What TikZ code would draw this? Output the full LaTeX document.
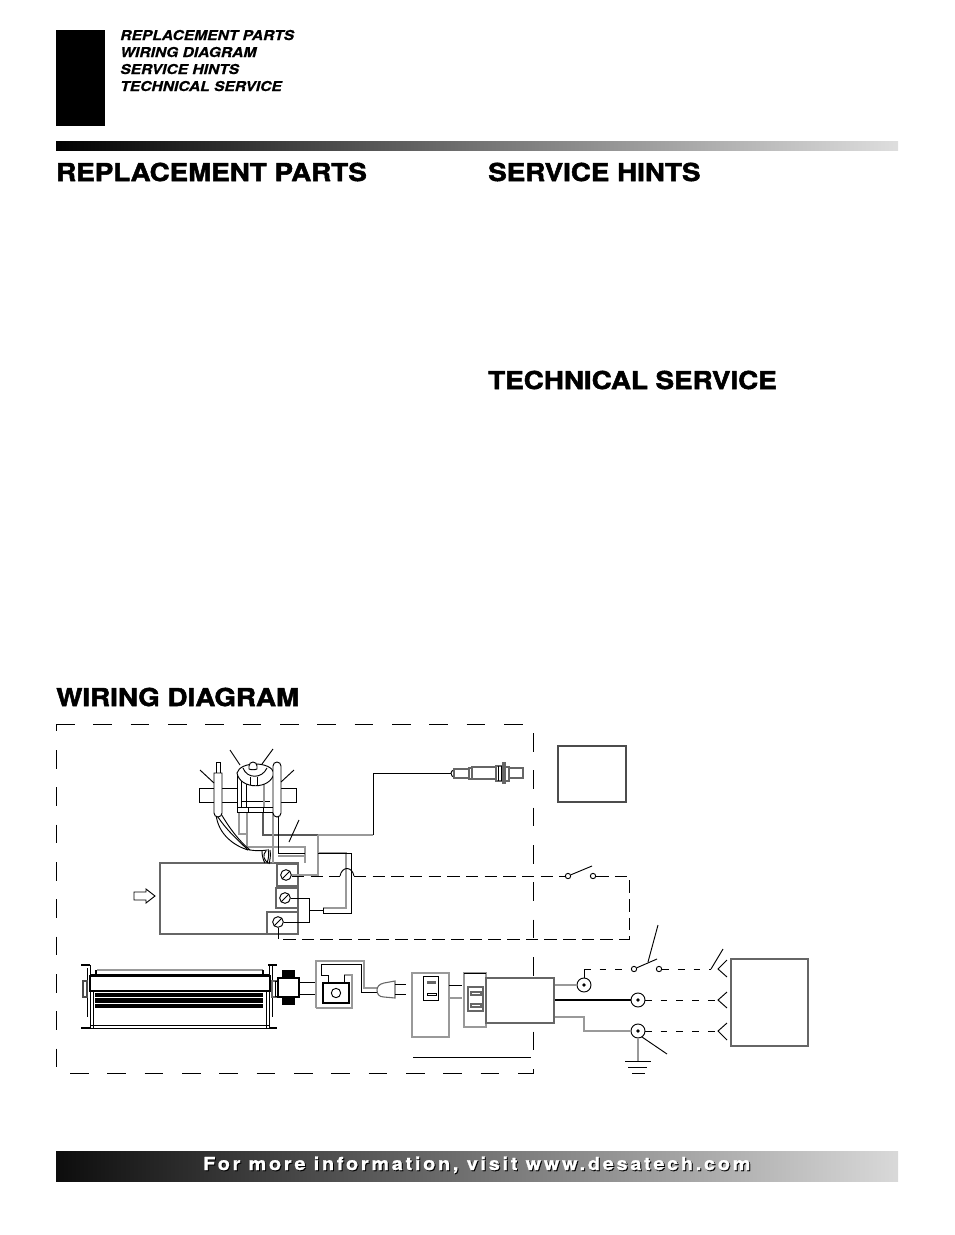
\documentclass[tikz,border=0pt]{standalone}
\usepackage{fontspec}
\usepackage{tikz}
\newfontfamily\headfont[FakeStretch=1.125,FakeBold=2]{TeX Gyre Heros}
\newfontfamily\tocfont[FakeStretch=1.145,FakeBold=0.5]{TeX Gyre Heros}
\newfontfamily\barfont[LetterSpace=15.4,FakeStretch=1.1,FakeBold=1.3]{TeX Gyre Heros}
\definecolor{wiregray}{gray}{0.6}
\definecolor{edgegray}{gray}{0.4}
\tikzset{
  parthead/.style={anchor=base west,inner sep=0pt,font=\headfont\bfseries\fontsize{18.5}{22}\selectfont},
  toclabel/.style={anchor=base west,inner sep=0pt,font=\tocfont\bfseries\itshape\fontsize{10.2}{12}\selectfont},
  barlabel/.style={anchor=base west,inner sep=0pt,font=\barfont\bfseries\fontsize{13.5}{15}\selectfont},
  thin wire/.style={line width=0.7pt},
  gray wire/.style={line width=0.9pt,draw=wiregray},
  edge box/.style={line width=0.8pt,draw=edgegray,fill=white},
  long dash/.style={line width=0.65pt,dash pattern=on 14pt off 14pt},
  ctrl dash/.style={line width=0.65pt,dash pattern=on 9.33pt off 4.67pt},
  line dash/.style={line width=0.65pt,dash pattern=on 5pt off 6.8pt},
  screw/.style={circle,draw,line width=0.7pt,fill=white,minimum size=8pt,inner sep=0pt},
  contact/.style={circle,draw,line width=0.7pt,fill=white,minimum size=4pt,inner sep=0pt},
  lug/.style={circle,draw,line width=0.7pt,fill=white,minimum size=10.5pt,inner sep=0pt},
}
\begin{document}
\begin{tikzpicture}[x=0.75pt,y=0.75pt,yscale=-1,xscale=1]
\useasboundingbox (0,0) rectangle (954,1235);

%Shape: Rectangle tab
\fill (56,30) rectangle (105,126);
%Shape: Top bar
\shade [left color=black,right color=black!13,middle color=black!55] (56,141) rectangle (898,150);
%Shape: Bottom bar
\shade [left color=black!95,right color=black!15,middle color=black!55] (56,1151) rectangle (898,1181);

% Text Node
\node [toclabel] (tocparts) at (120,40) {REPLACEMENT PARTS};
\node [toclabel] (tocwiring) at (120,57) {WIRING DIAGRAM};
\node [toclabel] (tochints) at (120,74) {SERVICE HINTS};
\node [toclabel] (toctech) at (120,91) {TECHNICAL SERVICE};
\node [parthead] (headparts) at (56,181) {REPLACEMENT PARTS};
\node [parthead] (headhints) at (488,181) {SERVICE HINTS};
\node [parthead] (headtech) at (488,389) {TECHNICAL SERVICE};
\node [parthead] (headwiring) at (56,706) {WIRING DIAGRAM};
\node [barlabel,text=black] (barshadow) at (204,1171) {For more information, visit www.desatech.com};
\node [barlabel,text=white] (bartext) at (203,1170) {For more information, visit www.desatech.com};

%Dashed frame
\draw [long dash] (56,724) -- (533,724);
\draw [long dash,dash phase=8.5pt] (56,724) -- (56,1073);
\draw [long dash,dash phase=17.5pt] (56,1073) -- (533.5,1073);
\draw [long dash,dash phase=21.25pt] (533.5,724) -- (533.5,1073);
\draw [line width=0.65pt] (413,1057) -- (531,1057);

%Shape: Rectangle chart
\draw [edge box,draw=black!70] (558,746) rectangle (626,802);

%Shape: Control box
\draw [edge box] (160,863) rectangle (298,934);
\draw [edge box] (277,864) rectangle (298,886);
\draw [edge box] (276,888) rectangle (298,908);
\draw [edge box] (267,912) -- (267,934) -- (298,934) -- (298,912) -- cycle;
%Shape: Arrow
\draw [line width=0.7pt,fill=white] (134,892) -- (146,892) -- (146,889) -- (155,896) -- (146,903) -- (146,900) -- (134,900) -- cycle;

%Valve bar
\draw [thin wire,fill=white] (199,788) rectangle (296,802);
%Valve wires
\draw [gray wire] (239,811) -- (239,834) -- (247,834);
\draw [gray wire] (247,811) -- (247,847) -- (305,847) -- (305,863);
\draw [line width=1.1pt,draw=black!65] (263,811) -- (263,835) -- (318,835);
\draw [gray wire] (318,835) -- (373,835);
\draw [gray wire] (318,835) -- (318,875) -- (292,875);
\draw [gray wire] (273,811) -- (273,863);
\draw [thin wire] (278,811) -- (278,853) -- (305,853);
\draw [gray wire] (278,856) -- (305,856);
\draw [thin wire] (373,835) -- (373,773) -- (451,773);
\draw [gray wire] (318,853) -- (346,853) -- (346,908) -- (323,908);
\draw [thin wire] (318,853) -- (351,853) -- (351,913) -- (323,913) -- (323,908);
\draw [thin wire] (309,910) -- (323,910);
%Harness to control box
\draw [thin wire] (216,814) .. controls (218,835) and (235,846) .. (248,850);
\draw [thin wire] (216,814) .. controls (226,830) and (238,840) .. (248,850);
\draw [thin wire] (220,812) .. controls (228,826) and (238,840) .. (250,850);
\draw [thin wire] (246,849) .. controls (252,851) and (262,851) .. (267,850);
\draw [thin wire] (262,851) .. controls (262,855) and (263,860) .. (265,863);
\draw [thin wire] (266,851) .. controls (262,855) and (264,860) .. (268,863);
\draw [thin wire] (270,850) .. controls (271,855) and (270,860) .. (269,864);
\draw [thin wire] (268,849) .. controls (269,853) and (269,858) .. (267,863);

%Tube left
\draw [thin wire,fill=white] (216,773) -- (216,762) -- (220,762) -- (220,773);
\draw [thin wire,fill=white] (214,813) -- (214,773) -- (222,773) -- (222,813) arc (0:180:4);
%Valve body
\draw [thin wire,fill=white] (237,772) -- (237,812) -- (275,812) -- (275,772);
\draw [thin wire] (241,772) -- (241,807);
\draw [thin wire] (246,776) -- (246,807);
\draw [thin wire] (237,807) -- (275,807);
\draw [thin wire] (241,801) -- (270,801);
\draw [thin wire] (248,807) -- (248,812);
\draw [thin wire] (263,807) -- (263,812);
\draw [gray wire] (264,780) -- (264,807);
%Mushroom
\draw [thin wire,fill=white] (237,773) .. controls (240,790) and (271,790) .. (274,773) .. controls (271,761) and (240,761) .. (237,773) -- cycle;
\draw [thin wire] (243,768) .. controls (247,779) and (262,779) .. (267,768);
\draw [thin wire] (250,777) -- (250,785);
\draw [thin wire] (257,777) -- (257,785);
\draw [thin wire,fill=white] (249,769) -- (249,766) arc (180:360:4) -- (257,769) .. controls (255,770) and (251,770) .. (249,769) -- cycle;
%Tube right
\draw [thin wire,fill=white] (273,813) -- (273,766) arc (180:360:4) -- (281,813) arc (0:180:4);

%Leaders
\draw [thin wire] (230,750) -- (240,765);
\draw [thin wire] (273,749) -- (262,764);
\draw [thin wire] (200,770) -- (214,783);
\draw [thin wire] (294,770) -- (281,782);
\draw [thin wire] (299,820) -- (289,842);

%Screws
\node [screw] (scrwa) at (286,875) {};
\node [screw] (scrwb) at (285,898) {};
\node [screw] (scrwc) at (278,922) {};
\draw [thin wire] (282,879) -- (290,871);
\draw [thin wire] (281,902) -- (289,894);
\draw [thin wire] (274,926) -- (282,918);
\draw [thin wire] (scrwb) -- (309,898) -- (309,922) -- (scrwc);
\draw [thin wire] (scrwc) -- (278,939);

%Sensor
\draw [thin wire,fill=white] (454,770) -- (452,771) -- (451,773) -- (452,776) -- (454,777) -- cycle;
\draw [edge box] (454,769) rectangle (469,778);
\draw [edge box] (469,768) rectangle (472,779);
\draw [edge box] (472,767) rectangle (496,779);
\draw [edge box] (496,766) rectangle (503,781);
\draw [thin wire] (498.5,766) -- (498.5,781);
\draw [thin wire] (501,766) -- (501,781);
\draw [edge box] (505,767) rectangle (509,781);
\draw [edge box] (503,763) rectangle (505,783);
\draw [edge box] (509,768) rectangle (523,778);

%Switches
\node [contact] (swa) at (568,876) {};
\node [contact] (swb) at (593,876) {};
\node [contact] (swc) at (634,969) {};
\node [contact] (swd) at (659,969) {};
\draw [thin wire] (swa) -- (592,866);
\draw [thin wire] (swc) -- (657,959);
\draw [thin wire] (648,962) -- (658,925);

%Control dashes
\draw [ctrl dash] (292,876) -- (340,876);
\draw [thin wire] (340,876) .. controls (342,866) and (352,866) .. (354,876);
\draw [ctrl dash] (354,876) -- (swa);
\draw [ctrl dash] (swb) -- (629,876) -- (629,939) -- (278,939);

%Line side dashes
\node [lug] (luga) at (584,985) {};
\node [lug] (lugb) at (638,1000) {};
\node [lug] (lugc) at (638,1031) {};
\fill (luga) circle (1.8);
\fill (lugb) circle (1.8);
\fill (lugc) circle (1.8);
\draw [thin wire] (luga) -- (584,969);
\draw [line dash] (584,969) -- (swc);
\draw [line dash] (swd) -- (711,969);
\draw [line dash] (lugb) ++(7,0) -- (718,1000);
\draw [line dash] (lugc) ++(7,0) -- (718,1031);
\draw [gray wire] (554,985) -- (luga);
\draw [line width=0.8pt] (554,1000) -- (lugb);
\draw [gray wire] (554,1017) -- (584,1017) -- (584,1031) -- (lugc);

%Ground
\draw [gray wire] (lugc) -- (638,1061);
\draw [thin wire] (625,1061) -- (651,1061);
\draw [thin wire] (628,1067) -- (647,1067);
\draw [thin wire] (632,1073) -- (645,1073);
\draw [thin wire] (642,1037) -- (667,1054);

%Prongs
\draw [thin wire] (711,969) -- (723,949);
\draw [thin wire] (727,960) -- (718,969) -- (727,977);
\draw [thin wire] (727,992) -- (718,1000) -- (727,1008);
\draw [thin wire] (727,1023) -- (718,1031) -- (727,1040);

%Shape: Rectangle supply
\draw [edge box] (731,959) rectangle (808,1046);

%Fan blower
\draw [line width=1pt] (81,965) -- (90,965);
\draw [line width=1pt] (268,965) -- (277,965);
\draw [thin wire] (87,968) -- (87,1017);
\draw [thin wire] (90,965) -- (90,1028);
\draw [thin wire] (93,992) -- (93,1028);
\draw [thin wire] (269,965) -- (269,1028);
\draw [thin wire] (272,965) -- (272,1017);
\draw [thin wire] (266,992) -- (266,1028);
\draw [line width=1.2pt] (81,1028) -- (90,1028);
\draw [line width=1.2pt] (269,1028) -- (277,1028);
\fill [wiregray] (97,969) rectangle (263,971);
\fill (95,970) rectangle (97,974);
\fill (262,970) rectangle (264,974);
\draw [thin wire] (90,974) -- (270,974);
\draw [line width=0.9pt,fill=white] (90,976) rectangle (270,991);
\fill (95,992.5) rectangle (263,997);
\fill (95,998) rectangle (263,1002.5);
\fill (95,1003.5) rectangle (263,1008);
\draw [thin wire] (90,1025) -- (269,1025);
\draw [thin wire] (90,1028) -- (269,1028);
\draw [edge box,draw=black!70] (83,981) rectangle (87,997);
\draw [edge box] (272,981) rectangle (276,997);
%Fan motor
\fill (282,970) rectangle (295,978);
\fill (282,997) rectangle (295,1005);
\draw [thin wire,fill=white] (275,981) rectangle (278,996);
\draw [line width=0.8pt,fill=white] (278,978) rectangle (299,997);
\draw [thin wire] (299,982) -- (316,982);
\draw [thin wire] (299,994) -- (316,994);

%Holder
\draw [gray wire] (316,1008) -- (316,961) -- (364,961) -- (364,988) -- (378,988);
\draw [gray wire] (316,1008) -- (352,1008) -- (352,975) -- (344,975);
\draw [thin wire] (328,983) -- (328,975) -- (321,975) -- (321,964) -- (361,964) -- (361,992) -- (378,992);
\draw [thin wire] (344,975) -- (344,983);
\draw [line width=0.8pt,fill=white] (323,983) rectangle (349,1003);
\node [circle,draw,thin wire,minimum size=7pt,inner sep=0pt] (holderhole) at (336,993) {};

%Plug
\draw [edge box] (395,981) -- (384,983) .. controls (379,984) and (377,987) .. (377,990) .. controls (377,994) and (379,997) .. (384,997) -- (395,998) -- cycle;
\draw [thin wire] (395,984) -- (406,984);
\draw [thin wire] (395,994) -- (406,994);

%Receptacle
\draw [edge box,draw=wiregray] (412,973) rectangle (449,1037);
\draw [line width=0.7pt,fill=white] (423,976) rectangle (438,1000);
\fill [edgegray] (427,981) rectangle (436,983.5);
\draw [line width=0.5pt] (427,993) rectangle (436,995.5);
\draw [thin wire] (449,985) -- (462,985);
\draw [gray wire] (449,998) -- (462,998);

%Outlet and cord box
\draw [edge box,draw=wiregray] (464,973) rectangle (486,1027);
\draw [thin wire] (464,973) -- (486,973);
\draw [edge box] (468,987) rectangle (483,1011);
\draw [edge box] (471,992) rectangle (481,995);
\draw [edge box] (471,1004) rectangle (481,1007);
\draw [edge box] (486,978) rectangle (554,1023);

\end{tikzpicture}
\end{document}
